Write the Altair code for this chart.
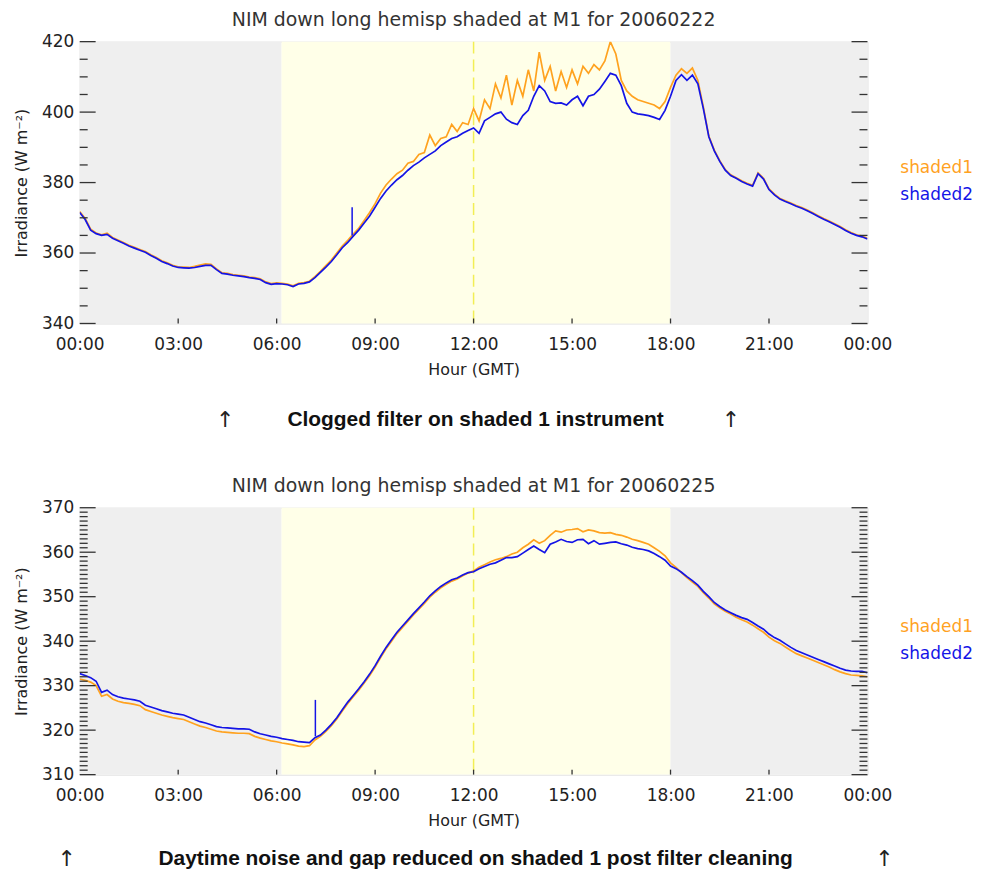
import altair as alt
import pandas as pd

# ---------------- data ----------------
STEP_MIN = 10  # sampling step of the traced curves, minutes
hours = [i * STEP_MIN / 60 for i in range(145)]

# 2006-02-22
top_shaded1 = [
    371.8, 369.8, 366.8, 365.7, 365.2, 365.6,
    364.4, 363.7, 363.0, 362.2, 361.6, 361.0,
    360.4, 359.5, 358.7, 357.8, 357.2, 356.5,
    356.1, 356.0, 355.9, 356.2, 356.6, 356.9,
    356.8, 355.5, 354.4, 354.2, 353.9, 353.7,
    353.5, 353.2, 353.0, 352.7, 351.8, 351.3,
    351.5, 351.4, 351.2, 350.7, 351.4, 351.6,
    352.0, 353.3, 354.8, 356.4, 358.0, 360.0,
    362.0, 363.6, 365.4, 367.0, 369.2, 371.5,
    374.0, 377.0, 379.3, 381.0, 382.5, 383.5,
    385.5, 386.0, 388.0, 388.5, 393.5, 390.5,
    392.5, 393.0, 396.5, 394.5, 397.0, 396.5,
    401.0, 397.5, 403.5, 401.0, 408.0, 404.0,
    410.5, 402.0, 409.0, 404.5, 412.0, 406.0,
    417.0, 409.0, 413.0, 406.0, 411.5, 407.0,
    412.0, 408.0, 413.0, 411.0, 413.5, 412.0,
    414.5, 420.0, 416.5, 409.0, 406.0, 404.5,
    403.5, 403.0, 402.5, 402.0, 401.0, 403.0,
    407.0, 410.5, 412.3, 411.0, 412.5, 409.0,
    401.5, 393.2, 389.2, 386.2, 383.7, 382.2,
    381.4, 380.5, 379.8, 379.2, 382.7, 381.2,
    378.2, 376.7, 375.5, 374.8, 374.2, 373.5,
    372.9, 372.2, 371.4, 370.6, 369.8, 369.1,
    368.3, 367.5, 366.6, 365.8, 365.2, 364.8,
    364.2,
]
top_shaded2 = [
    371.5, 369.5, 366.5, 365.5, 365.0, 365.3,
    364.2, 363.5, 362.8, 362.0, 361.4, 360.8,
    360.2, 359.3, 358.5, 357.6, 357.0, 356.3,
    355.9, 355.8, 355.7, 355.9, 356.2, 356.5,
    356.5, 355.3, 354.2, 354.0, 353.7, 353.5,
    353.3, 353.0, 352.8, 352.5, 351.6, 351.1,
    351.3, 351.2, 351.0, 350.5, 351.2, 351.4,
    351.8, 353.0, 354.5, 356.0, 357.6, 359.5,
    361.5, 363.0, 364.8, 366.5, 368.5, 370.5,
    373.0, 375.5, 377.6, 379.3, 380.8, 382.0,
    383.5, 384.8, 385.8, 387.0, 388.0, 389.0,
    390.5, 391.5, 392.5, 393.0, 394.0, 394.8,
    395.5, 394.0, 397.5, 398.5, 399.5, 400.0,
    398.0, 397.0, 396.5, 399.0, 400.5, 404.5,
    407.5, 406.0, 403.0, 402.5, 402.6, 402.0,
    403.5, 404.5, 401.8, 404.5, 405.0, 406.5,
    408.7, 411.0, 410.5, 407.5, 402.5, 400.0,
    399.5, 399.3, 399.0, 398.5, 397.9, 400.5,
    404.5, 409.0, 410.6, 409.0, 410.5, 408.0,
    401.0, 393.0, 389.0, 386.0, 383.5, 382.0,
    381.2, 380.3, 379.6, 379.0, 382.5, 381.0,
    378.0, 376.5, 375.3, 374.6, 374.0, 373.3,
    372.7, 372.0, 371.2, 370.4, 369.6, 368.9,
    368.1, 367.3, 366.4, 365.6, 365.0, 364.6,
    364.0,
]
top_spike = {"hour": [8.3], "low": [365.0], "high": [373.0]}

# 2006-02-25
bot_shaded1 = [
    331.5, 331.2, 330.8, 330.0, 327.6, 328.0,
    327.0, 326.5, 326.2, 326.0, 325.8, 325.5,
    324.6, 324.2, 323.8, 323.4, 323.1, 322.8,
    322.6, 322.4, 321.9, 321.4, 320.9, 320.6,
    320.2, 319.8, 319.6, 319.5, 319.4, 319.3,
    319.3, 319.2, 318.6, 318.2, 317.9, 317.6,
    317.4, 317.1, 316.9, 316.7, 316.4, 316.3,
    316.5, 317.8, 318.6, 319.7, 321.0, 322.5,
    324.3, 326.0, 327.5, 329.0, 330.6, 332.3,
    334.2, 336.3, 338.3, 340.0, 341.7, 343.1,
    344.5, 345.9, 347.2, 348.5, 349.9, 351.0,
    352.0, 352.8, 353.5, 354.0, 354.7, 355.3,
    355.8, 356.6, 357.2, 357.8, 358.3, 358.6,
    359.0, 359.6, 360.0, 361.0, 361.8, 362.8,
    362.0, 362.6, 363.8, 364.8, 364.5, 365.0,
    365.1, 365.3, 364.6, 365.0, 364.8, 364.4,
    364.3, 364.4, 364.0, 363.8, 363.4, 362.9,
    362.6, 362.2, 361.8, 361.0, 360.2, 359.2,
    357.6, 356.6, 355.4, 354.3, 353.3, 352.3,
    350.9, 349.7, 348.4, 347.5, 346.7, 346.1,
    345.4, 344.8, 344.3, 343.6, 342.8, 342.0,
    340.9, 340.1, 339.5, 338.7, 337.9, 337.2,
    336.7, 336.2, 335.7, 335.2, 334.7, 334.2,
    333.6, 333.1, 332.7, 332.4, 332.3, 332.2,
    332.0,
]
bot_shaded2 = [
    332.7, 332.3, 331.8, 331.0, 328.5, 329.0,
    328.0, 327.5, 327.2, 327.0, 326.8, 326.5,
    325.6, 325.2, 324.8, 324.4, 324.1, 323.8,
    323.6, 323.4, 322.9, 322.4, 321.9, 321.6,
    321.2, 320.8, 320.6, 320.5, 320.4, 320.3,
    320.3, 320.2, 319.6, 319.2, 318.9, 318.6,
    318.4, 318.1, 317.9, 317.7, 317.4, 317.3,
    317.2, 318.3, 318.9, 320.0, 321.3, 322.8,
    324.6, 326.3, 327.8, 329.3, 330.9, 332.6,
    334.5, 336.6, 338.6, 340.3, 342.0, 343.4,
    344.8, 346.2, 347.5, 348.8, 350.2, 351.3,
    352.3, 353.1, 353.8, 354.2, 354.9, 355.4,
    355.6, 356.3, 356.8, 357.3, 357.6, 358.2,
    358.8, 358.8, 359.0, 359.8, 360.6, 361.4,
    360.6, 359.9, 361.8, 362.3, 362.9, 362.4,
    362.2, 362.8, 362.9, 361.9, 362.6, 361.8,
    362.0, 362.2, 362.3, 361.9, 361.6, 361.1,
    360.8, 360.6, 360.3, 359.7, 359.0, 358.2,
    356.9, 356.3, 355.5, 354.5, 353.6, 352.6,
    351.2, 350.0, 348.7, 347.8, 347.0, 346.4,
    345.8, 345.3, 344.9, 344.2, 343.4, 342.7,
    341.6, 340.8, 340.2, 339.4, 338.6, 337.9,
    337.4, 336.9, 336.4, 335.9, 335.4, 334.9,
    334.4, 333.9, 333.5, 333.3, 333.2, 333.2,
    332.9,
]
bot_spike = {"hour": [7.18], "low": [318.6], "high": [326.8]}

band_start = [0, 6.15, 18]
band_end = [6.15, 18, 24]
band_kind = ["night", "day", "night"]

x_ticks = [0, 3, 6, 9, 12, 15, 18, 21, 24]
series_names = ["shaded1", "shaded2"]

ORANGE = "#FFA21F"
BLUE = "#1414E6"
FONT = "DejaVu Sans"
W = 791


def panel(title, s1, s2, spike, ydom, major, minor, height, caption, arrow_x, leg_y, cap_dy):
    xs = alt.Scale(domain=[0, 24], nice=False, zero=False)
    ys = alt.Scale(domain=ydom, nice=False, zero=False)
    xaxis = alt.Axis(values=x_ticks, labelExpr="(datum.value % 24 < 10 ? '0' : '') + (datum.value % 24) + ':00'",
                     title="Hour (GMT)", ticks=False, domain=False, grid=False, labelFlush=False,
                     labelOverlap=False, labelPadding=13, labelFontSize=17, labelFont=FONT, labelColor="#222",
                     titleFont=FONT, titleFontSize=16, titleFontWeight="normal", titleColor="#222", titlePadding=9)
    yaxis = alt.Axis(values=major, title="Irradiance (W m⁻²)", ticks=False, domain=False, grid=False,
                     labelFlush=False, labelOverlap=False, labelPadding=6, labelFontSize=17, labelFont=FONT,
                     labelColor="#222", titleFont=FONT, titleFontSize=16, titleFontWeight="normal",
                     titleColor="#222", titlePadding=12)

    def X(f):
        return alt.X(f, type="quantitative", scale=xs, axis=xaxis)

    def Y(f):
        return alt.Y(f, type="quantitative", scale=ys, axis=yaxis)

    bands = pd.DataFrame({"s": band_start, "e": band_end, "k": band_kind})
    band_layer = alt.Chart(bands).mark_rect().encode(
        x=X("s"), x2="e", y=alt.value(0), y2=alt.value(height),
        color=alt.Color("k:N", scale=alt.Scale(domain=["night", "day"], range=["#EFEFEF", "#FFFFE8"]), legend=None),
    )
    noon = alt.Chart(pd.DataFrame({"h": [12]})).mark_rule(color="#F2EE55", strokeWidth=1.5, strokeDash=[12, 6]).encode(
        x=X("h"), y=alt.value(0), y2=alt.value(height))

    d1 = pd.DataFrame({"hour": hours, "value": s1})
    d2 = pd.DataFrame({"hour": hours, "value": s2})
    l1 = alt.Chart(d1).mark_line(color=ORANGE, strokeWidth=1.7, clip=True).encode(x=X("hour"), y=Y("value"))
    l2 = alt.Chart(d2).mark_line(color=BLUE, strokeWidth=1.7, clip=True).encode(x=X("hour"), y=Y("value"))
    sp = alt.Chart(pd.DataFrame(spike)).mark_rule(color=BLUE, strokeWidth=1.5).encode(
        x=X("hour"), y=Y("low"), y2="high")

    majdf = pd.DataFrame({"v": major})
    mindf = pd.DataFrame({"v": minor})
    tick_style = dict(color="#333", strokeWidth=1.3)
    t1 = alt.Chart(majdf).mark_rule(**tick_style).encode(y=Y("v"), x=alt.value(0), x2=alt.value(16))
    t2 = alt.Chart(majdf).mark_rule(**tick_style).encode(y=Y("v"), x=alt.value(W - 16), x2=alt.value(W))
    t3 = alt.Chart(mindf).mark_rule(**tick_style).encode(y=Y("v"), x=alt.value(0), x2=alt.value(8))
    t4 = alt.Chart(mindf).mark_rule(**tick_style).encode(y=Y("v"), x=alt.value(W - 8), x2=alt.value(W))
    t5 = alt.Chart(pd.DataFrame({"h": x_ticks[1:-1]})).mark_rule(**tick_style).encode(
        x=X("h"), y=alt.value(height - 5), y2=alt.value(height))

    leg1 = alt.Chart(pd.DataFrame({"t": [series_names[0]]})).mark_text(
        align="left", baseline="middle", fontSize=17, font=FONT, color=ORANGE).encode(
        text="t:N", x=alt.value(W + 33), y=alt.value(leg_y[0]))
    leg2 = alt.Chart(pd.DataFrame({"t": [series_names[1]]})).mark_text(
        align="left", baseline="middle", fontSize=17, font=FONT, color=BLUE).encode(
        text="t:N", x=alt.value(W + 33), y=alt.value(leg_y[1]))

    cap = alt.Chart(pd.DataFrame({"t": [caption]})).mark_text(
        align="center", baseline="middle", fontSize=21, font="Liberation Sans", fontWeight="bold", color="#111").encode(
        text="t:N", x=alt.value(W / 2 + 2), y=alt.value(height + cap_dy))
    arr = alt.Chart(pd.DataFrame({"t": ["↑"]})).mark_text(
        align="center", baseline="middle", fontSize=22, font=FONT, fontWeight="normal", color="#222").encode(
        text="t:N", x=alt.value(arrow_x[0]), y=alt.value(height + cap_dy))
    arr2 = alt.Chart(pd.DataFrame({"t": ["↑"]})).mark_text(
        align="center", baseline="middle", fontSize=22, font=FONT, fontWeight="normal", color="#222").encode(
        text="t:N", x=alt.value(arrow_x[1]), y=alt.value(height + cap_dy))

    return alt.layer(band_layer, noon, l1, l2, sp, t1, t2, t3, t4, t5, leg1, leg2, cap, arr, arr2).properties(
        width=W, height=height,
        title=alt.TitleParams(title, fontSize=19, font=FONT, fontWeight="normal", color="#333",
                              offset=3, anchor="middle", frame="group"),
    )


top = panel("NIM down long hemisp shaded at M1 for 20060222", top_shaded1, top_shaded2, top_spike,
            [340, 420], list(range(340, 421, 20)), [v for v in range(340, 421, 5) if v % 20],
            283, "Clogged filter on shaded 1 instrument", [146, 654], [127, 154], 97)
bottom = panel("NIM down long hemisp shaded at M1 for 20060225", bot_shaded1, bot_shaded2, bot_spike,
               [310, 370], list(range(310, 371, 10)), [v for v in range(310, 371) if v % 10],
               268, "Daytime noise and gap reduced on shaded 1 post filter cleaning", [-13, 808], [120, 147], 85)

chart = alt.vconcat(top, bottom, spacing=44).properties(
    padding={"left": 5, "top": 0, "right": 5, "bottom": 0}
).configure_view(stroke="#333", strokeWidth=1.5).configure(background="white")

chart.save("out.html", embed_options={"renderer": "svg", "actions": False})
